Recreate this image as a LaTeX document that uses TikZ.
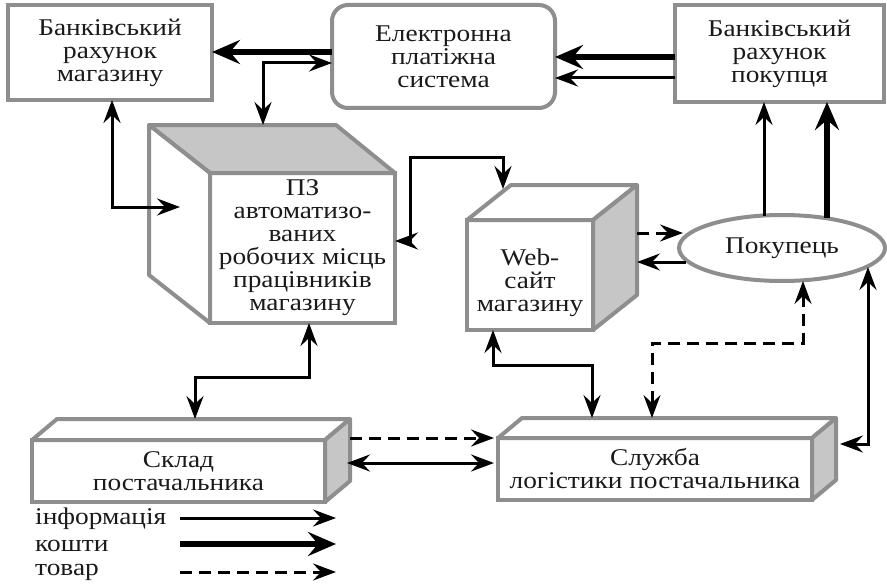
\documentclass[tikz,border=0pt]{standalone}
\usepackage{fontspec}
\setmainfont{Liberation Serif}[FakeStretch=1.14]
\usetikzlibrary{arrows.meta,shapes.geometric,calc}
\definecolor{edgegray}{HTML}{8E8E8E}
\definecolor{facegray}{HTML}{C6C6C6}
\definecolor{txt}{HTML}{1A1A1A}
\newcommand\dfont{\fontsize{24}{23}\selectfont}
\begin{document}
\begin{tikzpicture}[x=1pt,y=-1pt,
 box/.style={draw=edgegray,line width=4pt,fill=white,inner sep=0pt,outer sep=0pt,align=center,text=txt,font=\dfont},
 lbl/.style={inner sep=0pt,align=center,text=txt,font=\dfont},
 side/.style={draw=edgegray,line width=4pt,line join=round},
 info/.style={line width=3pt,>={Stealth[length=23pt,width=17pt,inset=8pt]}},
 money/.style={line width=6pt,>={Stealth[length=28pt,width=24pt,inset=10pt]}},
 goods/.style={line width=3pt,dash pattern=on 12pt off 7pt,>={Stealth[length=23pt,width=17pt,inset=8pt]}},
]
\useasboundingbox (0,0) rectangle (887,586);

% top row
\node[box,minimum width=204pt,minimum height=95pt] (lbank) at (110,52.5) {Банківський\\рахунок\\магазину};
\node[box,rounded corners=16pt,minimum width=223pt,minimum height=103pt] (ep) at (443.5,56.5) {Електронна\\платіжна\\система};
\node[box,minimum width=209pt,minimum height=97pt] (rbank) at (779.5,53.5) {Банківський\\рахунок\\покупця};

% big cube
\node[box,minimum width=185pt,minimum height=150pt] (pz) at (302.5,248) {ПЗ\\автоматизо-\\ваних\\робочих місць\\працівників\\магазину};
\draw[side,fill=facegray] (pz.north west) -- ++(-61,-48) -- ($(pz.north east)+(-59,-48)$) -- (pz.north east) -- cycle;
\draw[side,fill=white] (pz.north west) -- ++(-61,-48) -- ($(pz.south west)+(-61,-48)$) -- (pz.south west) -- cycle;
\coordinate (pzback) at ($(pz.north west)+(-61,-48)$);

% web cube
\node[box,minimum width=126pt,minimum height=110pt] (web) at (530,275) {};
\draw[side,fill=white] (web.north west) -- ++(44,-35) -- ($(web.north east)+(44,-35)$) -- (web.north east) -- cycle;
\draw[side,fill=facegray] (web.north east) -- ++(44,-35) -- ($(web.south east)+(44,-35)$) -- (web.south east) -- cycle;
\coordinate (webside) at ($(web.east)+(44,0)$);
\node[lbl] (webtxt) at (530,283) {Web-\\сайт\\магазину};

% buyer
\node[ellipse,draw=edgegray,line width=4pt,fill=white,minimum width=206pt,minimum height=66pt,inner sep=0pt,outer sep=0pt,text=txt,font=\dfont] (buyer) at (782,248) {Покупець};

% warehouse
\node[box,minimum width=293pt,minimum height=62pt] (sklad) at (178.5,471) {Склад\\постачальника};
\draw[side,fill=white] (sklad.north west) -- ++(25,-21) -- ($(sklad.north east)+(25,-21)$) -- (sklad.north east) -- cycle;
\draw[side,fill=facegray] (sklad.north east) -- ++(25,-21) -- ($(sklad.south east)+(25,-21)$) -- (sklad.south east) -- cycle;

% logistics
\node[box,minimum width=314pt,minimum height=62pt] (log) at (655,469) {Служба\\логістики постачальника};
\draw[side,fill=white] (log.north west) -- ++(24,-20) -- ($(log.north east)+(24,-20)$) -- (log.north east) -- cycle;
\draw[side,fill=facegray] (log.north east) -- ++(24,-20) -- ($(log.south east)+(24,-20)$) -- (log.south east) -- cycle;

% connectors top
\draw[money,->] (ep.west |- 0,52) -- (lbank.east |- 0,52);
\draw[info,<->] (pzback -| 263,0) |- (ep.west |- 0,63);
\draw[money,->] (rbank.west |- 0,57) -- (ep.east |- 0,57);
\draw[info,->] (rbank.west |- 0,78) -- (ep.east |- 0,78);

% left box to cube
\draw[info,<->] (lbank.south -| 112,0) |- (180,207);
% cube to web
\draw[info,<->] (pz.east |- 0,241) -- (410,241) |- (503,157) -- (503,189);
% web and buyer
\draw[goods,->] (webside |- 0,233) -- (683,233);
\draw[info,->] (686,262) -- (webside |- 0,262);
\draw[info,->] (764,215.5) -- (rbank.south -| 764,0);
\draw[money,->] (827,218) -- (rbank.south -| 827,0);
% buyer to logistics
\draw[goods,<->] (803,281) |- (652,343) -- (652,418);
\draw[info,<->] (868,267) |- (840,444);
% web to logistics
\draw[info,<->] (web.south -| 493,0) |- (592,365) -- (592,418);
% cube to warehouse
\draw[info,<->] (pz.south -| 309,0) |- (195,377) -- (195,419);
% warehouse and logistics
\draw[goods,->] (350,438) -- (494,438);
\draw[info,<->] (347,463) -- (494,463);

% legend
\node[lbl,anchor=west] (l1) at (35,519) {інформація};
\node[lbl,anchor=west] (l2) at (35,546) {кошти};
\node[lbl,anchor=west] (l3) at (35,572) {товар};
\draw[info,->] (180,518) -- (336,518);
\draw[money,->] (180,544) -- (336,544);
\draw[goods,->] (180,572) -- (336,572);
\end{tikzpicture}
\end{document}
